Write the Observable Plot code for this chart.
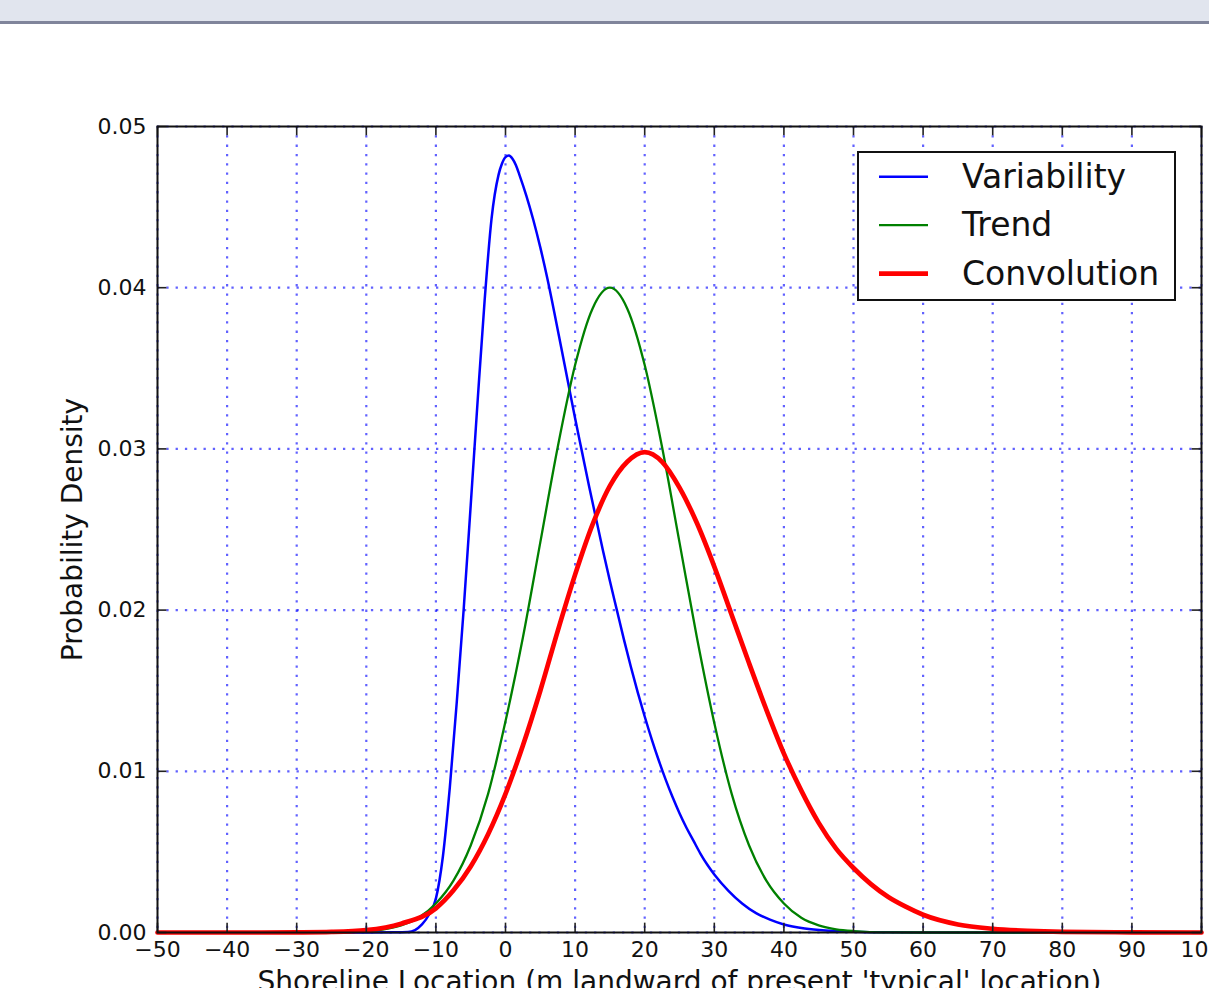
<!DOCTYPE html>
<html>
<head>
<meta charset="utf-8">
<script src="https://cdn.jsdelivr.net/npm/d3@7"></script>
<script src="https://cdn.jsdelivr.net/npm/@observablehq/plot@0.6"></script>
<style>
  html, body { margin: 0; padding: 0; background: #fff; overflow: hidden; width: 1209px; height: 988px; }
  #bar { position: absolute; left: 0; top: 0; width: 1209px; height: 21px; background: #e1e5ee; border-bottom: 3px solid #80859b; }
  #chart { position: absolute; left: 0; top: 24px; }
  #legend { position: absolute; left: 857px; top: 151px; }
  svg text { font-family: "DejaVu Sans", sans-serif; }
</style>
</head>
<body>
<div id="bar"></div>
<div id="chart"></div>
<div id="legend"></div>
<script>
// ---- data ----
const xTicks = [-50, -40, -30, -20, -10, 0, 10, 20, 30, 40, 50, 60, 70, 80, 90, 100];
const yTicks = [0, 0.01, 0.02, 0.03, 0.04, 0.05];
const seriesNames = ["Variability", "Trend", "Convolution"];
const seriesColors = ["#0000ff", "#008000", "#ff0000"];
const seriesWidths = [2.5, 2.3, 4.7];
const xLabel = "Shoreline Location (m landward of present 'typical' location)";
const yLabel = "Probability Density";

const variability = [
  [-50,0],[-20,0],[-16,0.00001],[-14,0.00003],[-13,0.00015],[-12,0.0005],[-11,0.0011],[-10,0.0021],
  [-9,0.0047],[-8,0.0090],[-7,0.0143],[-6,0.0201],[-5,0.0265],[-4,0.0330],[-3,0.0392],[-2,0.0443],
  [-1,0.0470],[-0.5,0.0477],[0,0.0481],[0.5,0.0482],[1,0.0480],[1.5,0.0476],[2,0.0470],[3,0.0457],
  [4,0.0442],[5,0.0425],[6,0.0406],[7,0.0385],[8,0.0363],[9,0.0341],[10,0.0319],[11,0.0298],
  [12,0.0277],[13,0.0257],[14,0.0237],[15,0.0218],[16,0.0200],[17,0.0182],[18,0.0165],[19,0.0149],
  [20,0.0134],[21,0.0120],[22,0.0107],[23,0.0095],[24,0.0084],[25,0.0074],[26,0.0065],[27,0.0057],
  [28,0.0049],[29,0.0042],[30,0.0036],[32,0.0026],[34,0.0018],[36,0.0012],[38,0.0008],[40,0.0005],
  [43,0.00025],[46,0.00012],[50,0.00005],[55,0.00001],[60,0],[100,0]
];
const trend = [
  [-50,0],[-25,0.00001],[-20,0.00009],[-17.5,0.0002],[-15,0.00044],[-12.5,0.00091],[-10,0.0018],
  [-7.5,0.0032],[-5,0.0054],[-2.5,0.0086],[0,0.0131],[2.5,0.0183],[5,0.0242],[7.5,0.0301],
  [10,0.0352],[12.5,0.0387],[15,0.0400],[17.5,0.0387],[20,0.0352],[22.5,0.0301],[25,0.0242],
  [27.5,0.0183],[30,0.0130],[32.5,0.0086],[35,0.0054],[37.5,0.0032],[40,0.0018],[42.5,0.00091],
  [45,0.00044],[47.5,0.0002],[50,0.00009],[55,0.00001],[60,0],[100,0]
];
const convolution = [
  [-50,0],[-35,0],[-30,0.00001],[-25,0.00004],[-20,0.00015],[-15,0.00055],[-10,0.0015],[-7.5,0.0026],
  [-5,0.0041],[-2.5,0.0061],[0,0.0086],[2.5,0.0116],[5,0.0150],[7.5,0.0187],[10,0.0222],[12.5,0.0253],
  [15,0.0277],[17.5,0.0292],[20,0.0298],[22.5,0.0292],[25,0.0276],[27.5,0.0254],[30,0.0227],
  [32.5,0.0197],[35,0.0167],[37.5,0.0138],[40,0.0111],[42.5,0.0088],[45,0.0068],[47.5,0.0052],
  [50,0.0040],[52.5,0.0030],[55,0.0022],[57.5,0.0016],[60,0.0011],[65,0.0005],[70,0.00023],
  [75,0.0001],[80,0.00004],[90,0.00001],[100,0]
];
const seriesData = [variability, trend, convolution];

// ---- chart ----
const gridStyle = {stroke: "#0000ff", strokeOpacity: 0.62, strokeWidth: 2.2, strokeDasharray: "2.3,7"};
const tickLenY = 0.00058, tickLenX = 1.35;

const lineMarks = seriesData.map((s, i) =>
  Plot.line(s, {x: d => d[0], y: d => d[1], stroke: seriesColors[i], strokeWidth: seriesWidths[i], curve: "monotone-x"})
);

const chart = Plot.plot({
  width: 1209,
  height: 1000,
  marginLeft: 157,
  marginRight: 8,
  marginTop: 102,
  marginBottom: 92,
  style: {fontFamily: "DejaVu Sans", background: "transparent", overflow: "visible"},
  x: {domain: [-50, 100]},
  y: {domain: [0, 0.05]},
  marks: [
    Plot.gridX(xTicks, gridStyle),
    Plot.gridY(yTicks, gridStyle),
    ...lineMarks,
    Plot.ruleX(xTicks, {x: d => d, y1: 0, y2: tickLenY, stroke: "#222", strokeWidth: 1.6}),
    Plot.ruleX(xTicks, {x: d => d, y1: 0.05, y2: 0.05 - tickLenY, stroke: "#222", strokeWidth: 1.6}),
    Plot.ruleY(yTicks, {y: d => d, x1: -50, x2: -50 + tickLenX, stroke: "#222", strokeWidth: 1.6}),
    Plot.ruleY(yTicks, {y: d => d, x1: 100, x2: 100 - tickLenX, stroke: "#222", strokeWidth: 1.6}),
    Plot.frame({stroke: "#111", strokeWidth: 2}),
    Plot.axisX(xTicks, {tickSize: 0, tickPadding: 9, fontSize: 22, fill: "#111", tickFormat: d3.format("d"), label: null}),
    Plot.axisY(yTicks, {tickSize: 0, tickPadding: 11, fontSize: 22, fill: "#111", tickFormat: d3.format(".2f"), label: null}),
    Plot.text([xLabel], {text: d => d, frameAnchor: "bottom", dy: 58, fontSize: 28, fill: "#111"}),
    Plot.text([yLabel], {text: d => d, frameAnchor: "left", textAnchor: "middle", dx: -84, rotate: -90, fontSize: 28, fill: "#111"})
  ]
});
document.getElementById("chart").appendChild(chart);

// ---- legend ----
const lg = d3.select("#legend").append("svg").attr("width", 320).attr("height", 152);
lg.append("rect").attr("x", 1).attr("y", 1).attr("width", 317).attr("height", 148)
  .attr("fill", "white").attr("stroke", "#111").attr("stroke-width", 2);
seriesNames.forEach((name, i) => {
  const ly = 25.7 + i * 48.5;
  lg.append("line").attr("x1", 22).attr("x2", 71).attr("y1", ly).attr("y2", ly)
    .attr("stroke", seriesColors[i]).attr("stroke-width", seriesWidths[i]);
  lg.append("text").attr("x", 105).attr("y", ly + 10.8).attr("font-size", 33).attr("fill", "#111").text(name);
});
</script>
</body>
</html>
